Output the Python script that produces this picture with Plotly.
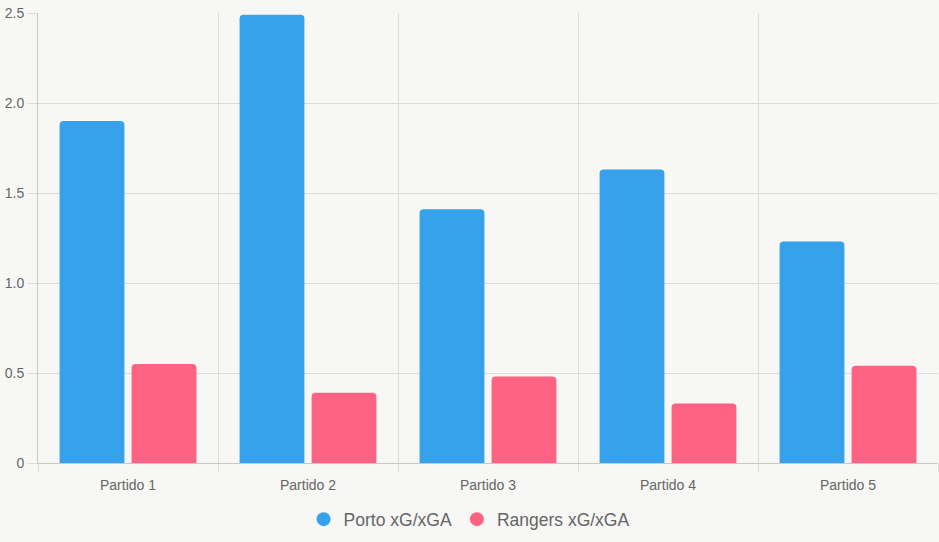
import plotly.graph_objects as go

categories = ["Partido 1", "Partido 2", "Partido 3", "Partido 4", "Partido 5"]
porto = [1.90, 2.49, 1.41, 1.63, 1.23]
rangers = [0.55, 0.39, 0.48, 0.33, 0.54]
series_names = ["Porto xG/xGA", "Rangers xG/xGA"]
colors = ["#36a2eb", "#ff6384"]
ytick_vals = [0, 0.5, 1.0, 1.5, 2.0, 2.5]
ytick_text = ["0", "0.5", "1.0", "1.5", "2.0", "2.5"]

fig = go.Figure()
for name, vals, col in zip(series_names, [porto, rangers], colors):
    fig.add_trace(go.Bar(x=categories, y=vals, name=name, marker=dict(color=col, line=dict(width=0)),
                         showlegend=False))
# legend entries with circle symbols
for name, col in zip(series_names, colors):
    fig.add_trace(go.Scatter(x=[None], y=[None], mode="markers", name=name,
                             marker=dict(color=col, size=14, symbol="circle")))

grid = "#dcdcda"
fig.update_layout(
    width=939, height=542,
    paper_bgcolor="#f7f7f5", plot_bgcolor="#f7f7f5",
    margin=dict(l=38, r=1, t=13, b=79),
    barmode="group", bargap=0.2, bargroupgap=0.1, barcornerradius=4,
    font=dict(family="Liberation Sans, Arial, sans-serif", color="#666666", size=14),
    legend=dict(orientation="h", x=0.479, xanchor="center", y=-0.125, yanchor="middle",
                font=dict(size=17.5, color="#666666"), itemwidth=30, bgcolor="rgba(0,0,0,0)"),
    xaxis=dict(type="category", tickson="boundaries", showgrid=True, gridcolor=grid,
               ticks="outside", ticklen=8, tickcolor=grid, showline=True, linecolor="#c8c8c6",
               linewidth=1, tickfont=dict(size=14, color="#666666"), zeroline=False,
               ticklabelstandoff=9),
    yaxis=dict(range=[0, 2.5], tickvals=ytick_vals, ticktext=ytick_text, showgrid=True,
               gridcolor=grid, ticks="outside", ticklen=10, tickcolor=grid, showline=True,
               linecolor="#c8c8c6", linewidth=1, zeroline=False,
               tickfont=dict(size=14, color="#666666")),
)
fig.write_html("out.html")
